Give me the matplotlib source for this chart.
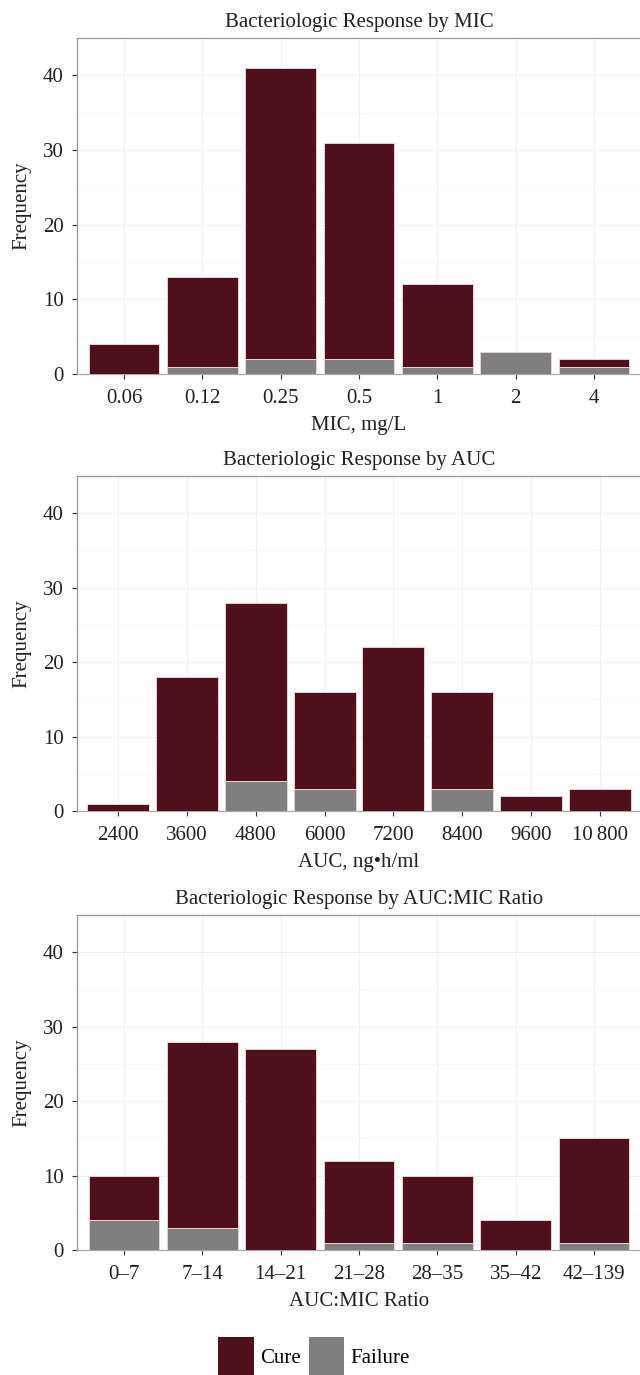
import matplotlib
matplotlib.use("Agg")
import matplotlib.pyplot as plt
from matplotlib.patches import Patch
import numpy as np

plt.rcParams['font.family'] = ['Liberation Serif', 'DejaVu Serif']
plt.rcParams['font.size'] = 15

# données
mic_labels = ['0.06', '0.12', '0.25', '0.5', '1', '2', '4']
mic_cure = [4, 12, 39, 29, 11, 0, 1]
mic_fail = [0, 1, 2, 2, 1, 3, 1]

auc_labels = ['2400', '3600', '4800', '6000', '7200', '8400', '9600', '10\u2009800']
auc_cure = [1, 18, 24, 13, 22, 13, 2, 3]
auc_fail = [0, 0, 4, 3, 0, 3, 0, 0]

ratio_labels = ['0\u20137', '7\u201314', '14\u201321', '21\u201328', '28\u201335', '35\u201342', '42\u2013139']
ratio_cure = [6, 25, 27, 11, 9, 4, 14]
ratio_fail = [4, 3, 0, 1, 1, 0, 1]

cure_col = '#4e111c'
fail_col = '#7f7f7f'
edge_col = '#ecd2d2'
border_col = '#9e9494'

W, H = 640, 1375
fig = plt.figure(figsize=(W / 100, H / 100), dpi=100)


def edges(vals):
    # pas de contour pour les segments vides
    return [edge_col if v > 0 else 'none' for v in vals]


def panel(top, bottom, labels, cure, fail, title, xlabel):
    ax = fig.add_axes([77 / W, 1 - bottom / H, 564 / W, (bottom - top) / H])
    x = np.arange(len(labels))
    ax.bar(x, fail, width=0.9, color=fail_col, edgecolor=edges(fail), linewidth=0.7, zorder=3)
    ax.bar(x, cure, width=0.9, bottom=fail, color=cure_col, edgecolor=edges(cure), linewidth=0.7, zorder=3)
    ax.set_xlim(-0.6, len(labels) - 0.4)
    ax.set_ylim(0, 45)
    ax.set_yticks([0, 10, 20, 30, 40])
    ax.set_yticks([5, 15, 25, 35], minor=True)
    ax.set_xticks(x)
    ax.set_xticklabels(labels)
    ax.grid(True, which='major', color='#efefef', linewidth=0.8, zorder=0)
    ax.grid(True, which='minor', axis='y', color='#f6f6f6', linewidth=0.6, zorder=0)
    ax.tick_params(axis='both', which='major', length=3.5, width=0.8, color='#333333',
                   labelcolor='#222222', labelsize=15)
    ax.tick_params(axis='x', pad=7)
    ax.tick_params(axis='y', pad=6)
    ax.tick_params(which='minor', length=0)
    for s in ax.spines.values():
        s.set_color(border_col)
        s.set_linewidth(0.9)
    ax.spines['bottom'].set_color('#aaaaaa')
    ax.set_title(title, fontsize=15, pad=8, color='#222222')
    ax.set_xlabel(xlabel, fontsize=15, color='#222222', labelpad=6)
    ax.set_ylabel('Frequency', fontsize=15, color='#222222')
    ax.yaxis.set_label_coords(-46 / 564, 0.5)
    return ax


panel(38, 374, mic_labels, mic_cure, mic_fail,
      'Bacteriologic Response by MIC', 'MIC, mg/L')
panel(476, 811, auc_labels, auc_cure, auc_fail,
      'Bacteriologic Response by AUC', 'AUC, ng\u2022h/ml')
panel(915, 1250, ratio_labels, ratio_cure, ratio_fail,
      'Bacteriologic Response by AUC:MIC Ratio', 'AUC:MIC Ratio')

handles = [Patch(facecolor=cure_col, edgecolor='none', label='Cure'),
           Patch(facecolor=fail_col, edgecolor='none', label='Failure')]
fig.legend(handles=handles, loc='center', bbox_to_anchor=(314 / W, 1 - 1357 / H),
           ncol=2, frameon=False, fontsize=15, handlelength=1.7, handleheight=2.6,
           handletextpad=0.3, columnspacing=0.4, borderaxespad=0, borderpad=0)

fig.savefig('out.png', dpi=100)
